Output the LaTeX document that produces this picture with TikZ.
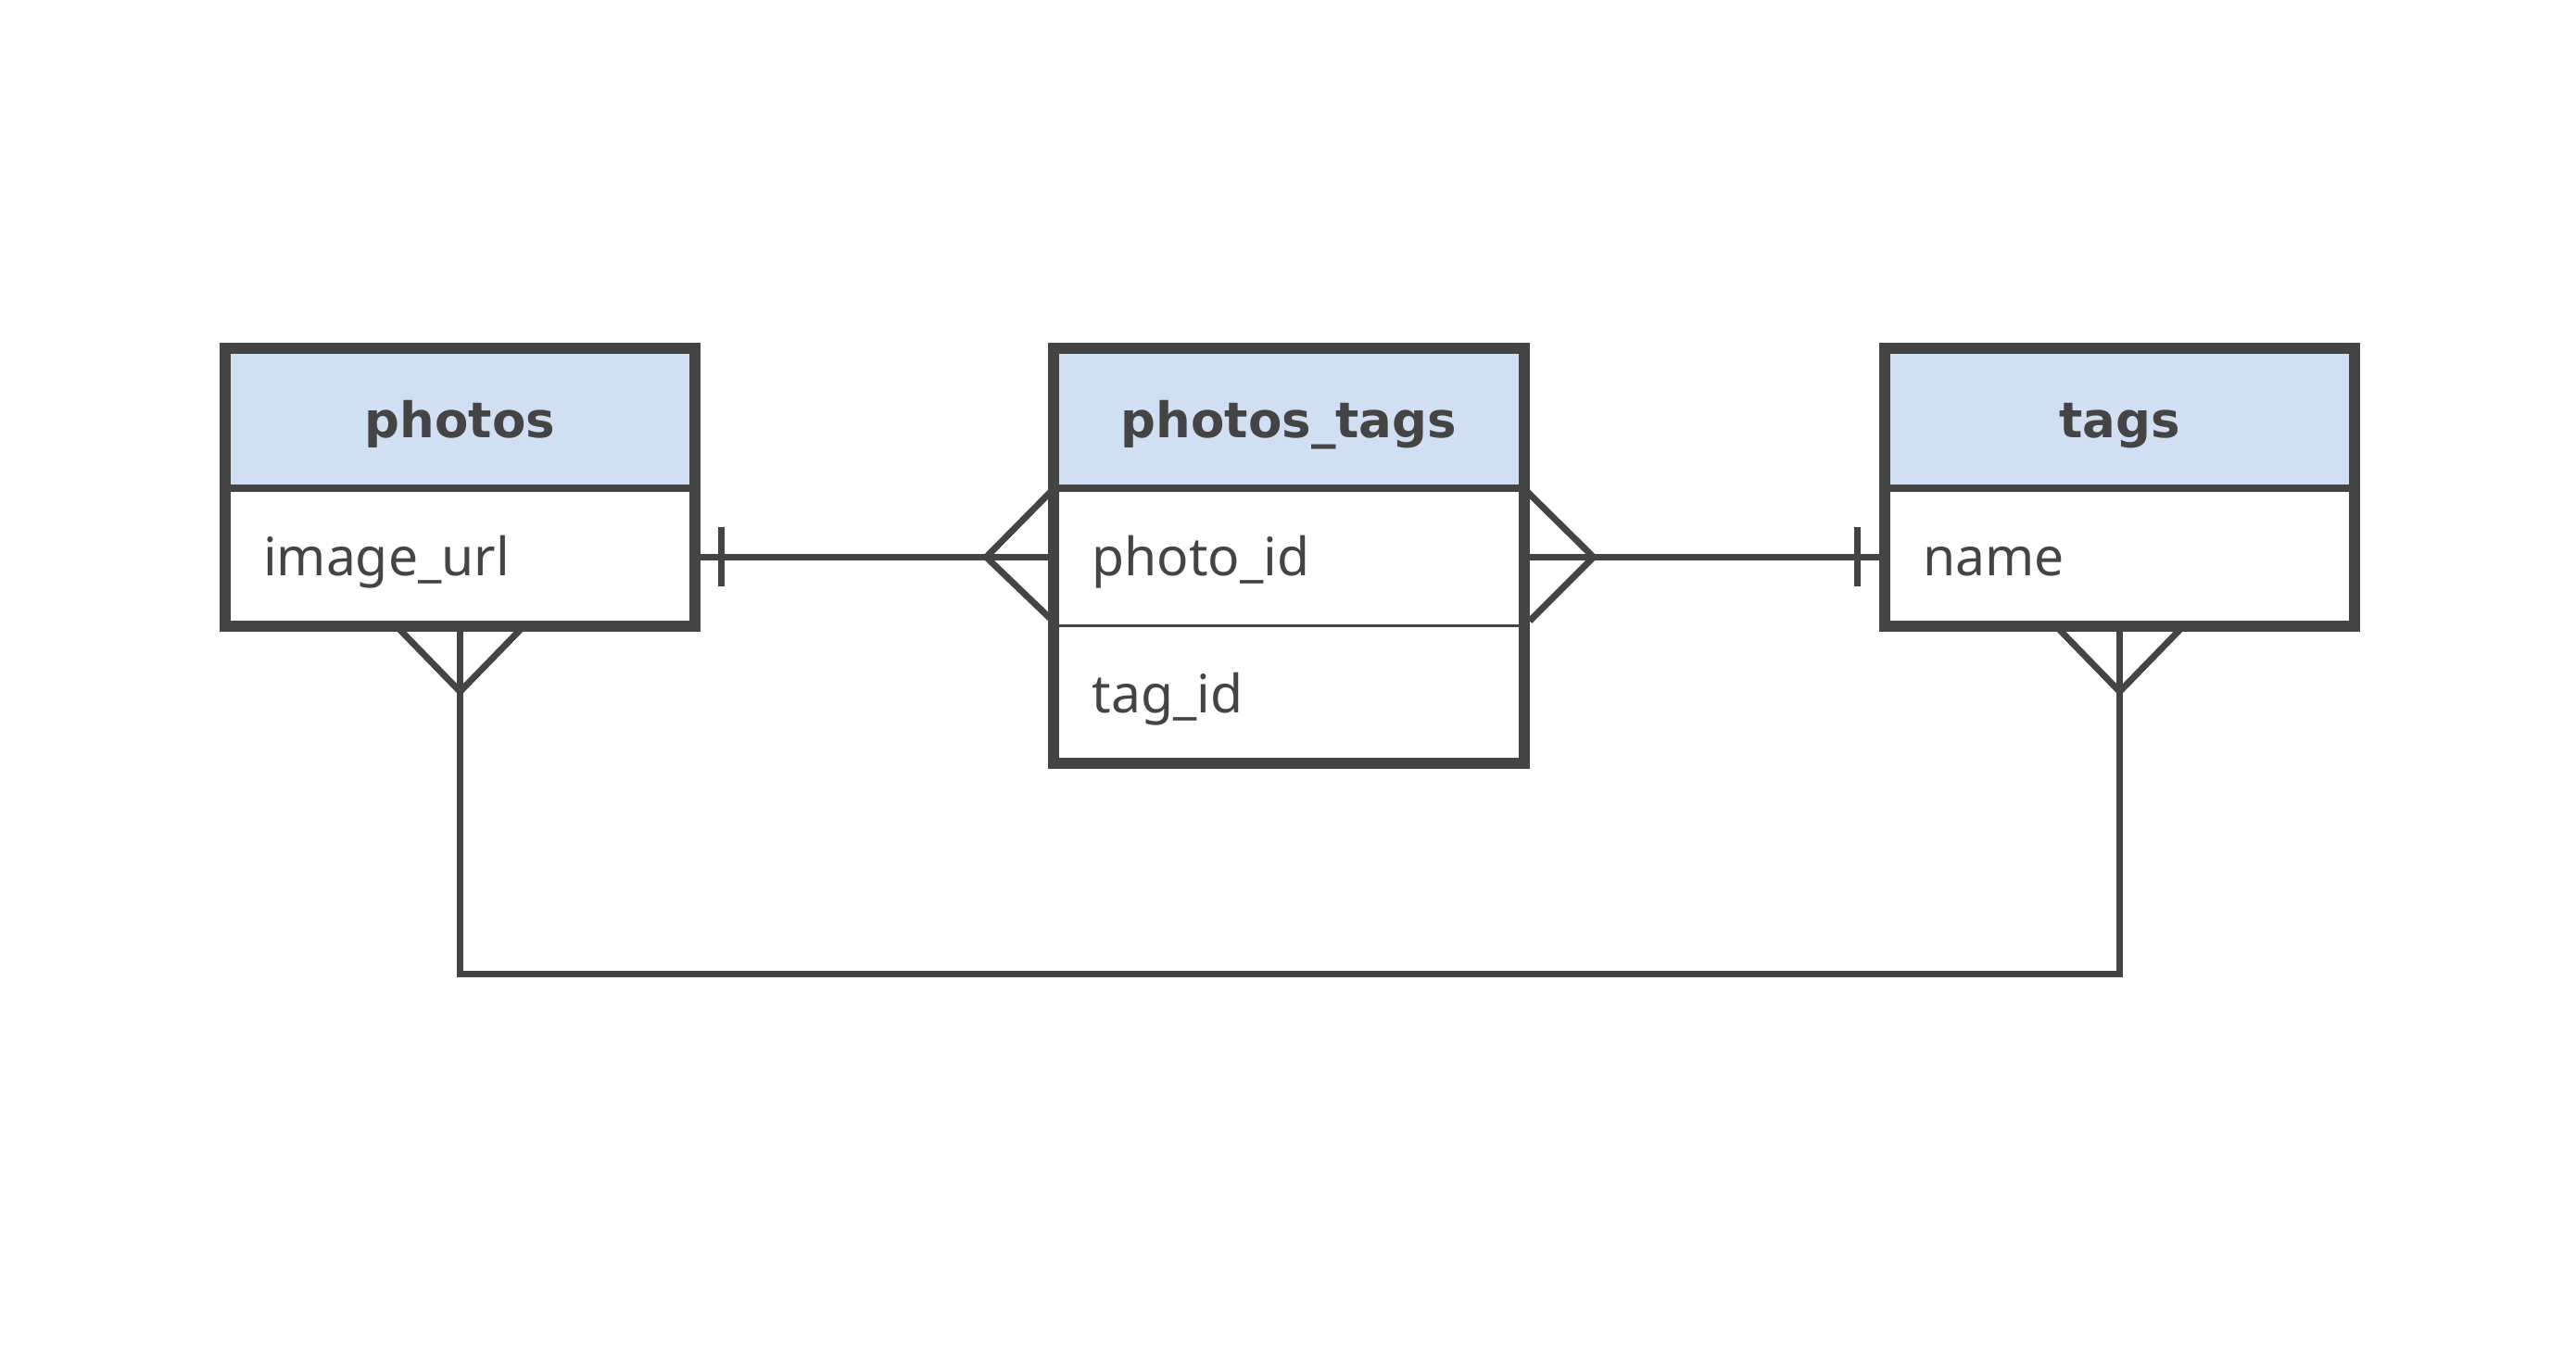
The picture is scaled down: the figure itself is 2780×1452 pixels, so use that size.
\documentclass[tikz,border=0pt]{standalone}
\usepackage{fontspec}
\setmainfont{Noto Sans}
\newfontfamily\hdrfont{DejaVu Sans}
\usetikzlibrary{calc}
\definecolor{ink}{HTML}{444444}
\definecolor{hdrblue}{HTML}{D0E0F2}
\tikzset{
  hdr/.style={fill=hdrblue, minimum width=507pt, minimum height=151pt, inner sep=0pt},
  rowbox/.style={minimum width=507pt, minimum height=148pt, inner sep=0pt},
  hdrtext/.style={anchor=base, inner sep=0pt, text=ink, font=\hdrfont\fontsize{53}{60}\selectfont\bfseries},
  rowtext/.style={anchor=base west, inner sep=0pt, text=ink, font=\fontsize{57}{64}\selectfont},
  frame/.style={draw=ink, line width=12pt, line join=miter},
  hsep/.style={draw=ink, line width=7.5pt},
  rsep/.style={draw=ink, line width=3.5pt},
  conn/.style={draw=ink, line width=7pt}
}
\begin{document}
\begin{tikzpicture}[x=1pt,y=-1pt]
\useasboundingbox (0,0) rectangle (2780,1452);
% photos
\node[hdr] (ph-h) at (496.5,451.5) {};
\node[rowbox, anchor=north] (ph-r1) at (ph-h.south) {};
% photos_tags
\node[hdr] (pt-h) at (1391,451.5) {};
\node[rowbox, anchor=north] (pt-r1) at (pt-h.south) {};
\node[rowbox, anchor=north] (pt-r2) at (pt-r1.south) {};
% tags
\node[hdr] (tg-h) at (2287.5,451.5) {};
\node[rowbox, anchor=north] (tg-r1) at (tg-h.south) {};
% texts
\node[hdrtext] (ph-ht) at ($(ph-h.center)+(0,21)$) {photos};
\node[hdrtext] (pt-ht) at ($(pt-h.center)+(0,21)$) {photos\_tags};
\node[hdrtext] (tg-ht) at ($(tg-h.center)+(0,21)$) {tags};
\node[rowtext] (ph-t1) at ($(ph-r1.west)+(41,20)$) {image\_url};
\node[rowtext] (pt-t1) at ($(pt-r1.west)+(41,20)$) {photo\_id};
\node[rowtext] (pt-t2) at ($(pt-r2.west)+(41,20)$) {tag\_id};
\node[rowtext] (tg-t1) at ($(tg-r1.west)+(41,20)$) {name};
% separators and frames
\draw[hsep] (ph-h.south west) -- (ph-h.south east);
\draw[hsep] (pt-h.south west) -- (pt-h.south east);
\draw[hsep] (tg-h.south west) -- (tg-h.south east);
\draw[rsep] (pt-r1.south west) -- (pt-r1.south east);
\draw[frame] (ph-h.north west) rectangle (ph-r1.south east);
\draw[frame] (pt-h.north west) rectangle (pt-r2.south east);
\draw[frame] (tg-h.north west) rectangle (tg-r1.south east);
% photos -> photos_tags
\draw[conn] (ph-r1.east) -- (pt-r1.west);
\draw[conn] ([xshift=28pt,yshift=32pt]ph-r1.east) -- ([xshift=28pt,yshift=-32pt]ph-r1.east);
\draw[conn] ([yshift=74pt]pt-r1.west) -- ([xshift=-73pt]pt-r1.west) -- ([yshift=-70pt]pt-r1.west);
% photos_tags -> tags
\draw[conn] (pt-r1.east) -- (tg-r1.west);
\draw[conn] ([xshift=-29pt,yshift=32pt]tg-r1.west) -- ([xshift=-29pt,yshift=-32pt]tg-r1.west);
\draw[conn] ([yshift=74pt]pt-r1.east) -- ([xshift=75pt]pt-r1.east) -- ([xshift=6pt,yshift=-69pt]pt-r1.east);
% photos <-> tags (bottom)
\coordinate (low) at ($(ph-r1.south)+(0,376)$);
\draw[conn] (ph-r1.south) -- (low) -| (tg-r1.south);
\draw[conn] ([xshift=-69pt]ph-r1.south) -- ([yshift=-71pt]ph-r1.south) -- ([xshift=69pt]ph-r1.south);
\draw[conn] ([xshift=-69pt]tg-r1.south) -- ([yshift=-71pt]tg-r1.south) -- ([xshift=69pt]tg-r1.south);
\end{tikzpicture}
\end{document}
